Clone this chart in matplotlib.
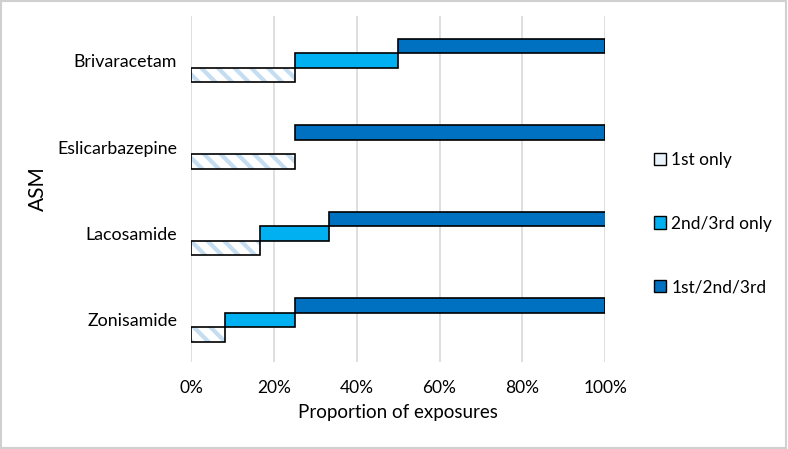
import numpy as np
import matplotlib.pyplot as plt
from matplotlib.patches import Patch

plt.rcParams['font.family'] = ['Lato', 'DejaVu Sans']
plt.rcParams['hatch.linewidth'] = 3

drugs = ['Brivaracetam', 'Eslicarbazepine', 'Lacosamide', 'Zonisamide']
first_only = [0.25, 0.25, 0.167, 0.083]
second_third_only = [0.25, 0.0, 0.167, 0.167]
all_three = [0.50, 0.75, 0.667, 0.75]
series_names = ['1st only', '2nd/3rd only', '1st/2nd/3rd']

light = '#00B0F0'
dark = '#0070C0'
hatch_col = '#C5DDF0'

fig = plt.figure(figsize=(7.88, 4.49), dpi=100)
ax = fig.add_axes([0.2424, 0.194, 0.768 - 0.2424, 0.964 - 0.194])

y = np.arange(len(drugs))
h = 0.168
first = np.array(first_only)
second = np.array(second_third_only)
third = np.array(all_three)

# hatched fill, then black outline on top
ax.barh(y + h, first, height=h, color='white', edgecolor=hatch_col,
        hatch='\\\\', linewidth=0, zorder=2)
ax.barh(y + h, first, height=h, fill=False, edgecolor='black', linewidth=1.2, zorder=3)

mask = second > 0
ax.barh(y[mask], second[mask], left=first[mask], height=h, color=light,
        edgecolor='black', linewidth=1.2, zorder=3)
ax.barh(y - h, third, left=first + second, height=h, color=dark,
        edgecolor='black', linewidth=1.2, zorder=3)

ax.set_xlim(0, 1)
ax.set_ylim(3.486, -0.514)
ticks = np.arange(0, 1.01, 0.2)
ax.set_xticks(ticks)
ax.set_xticklabels([f'{int(round(v * 100))}%' for v in ticks], fontsize=12.5)
ax.set_yticks(y)
ax.set_yticklabels(drugs, fontsize=12.8)
ax.tick_params(axis='y', length=0, pad=10)
ax.tick_params(axis='x', length=0, pad=13)
ax.grid(axis='x', color='#D9D9D9', linewidth=1.2, zorder=0)
ax.set_axisbelow(True)
for s in ax.spines.values():
    s.set_visible(False)

ax.set_xlabel('Proportion of exposures', fontsize=13.5, labelpad=6)
ax.set_ylabel('ASM', fontsize=15)
ax.yaxis.set_label_coords(-0.345, 0.5)

handles = [
    Patch(facecolor='#EAF2FA', edgecolor='black', linewidth=1),
    Patch(facecolor=light, edgecolor='black', linewidth=1),
    Patch(facecolor=dark, edgecolor='black', linewidth=1),
]
fig.legend(handles, series_names, loc='center left', bbox_to_anchor=(0.81, 0.502),
           frameon=False, fontsize=12.5, handlelength=0.7, handleheight=0.7,
           handletextpad=0.3, labelspacing=2.75)

fig.patches.append(plt.Rectangle((0.001, 0.002), 0.997, 0.996, transform=fig.transFigure,
                                 fill=False, edgecolor='#D0D0D0', linewidth=1.5))

fig.savefig('out.png', dpi=100)
